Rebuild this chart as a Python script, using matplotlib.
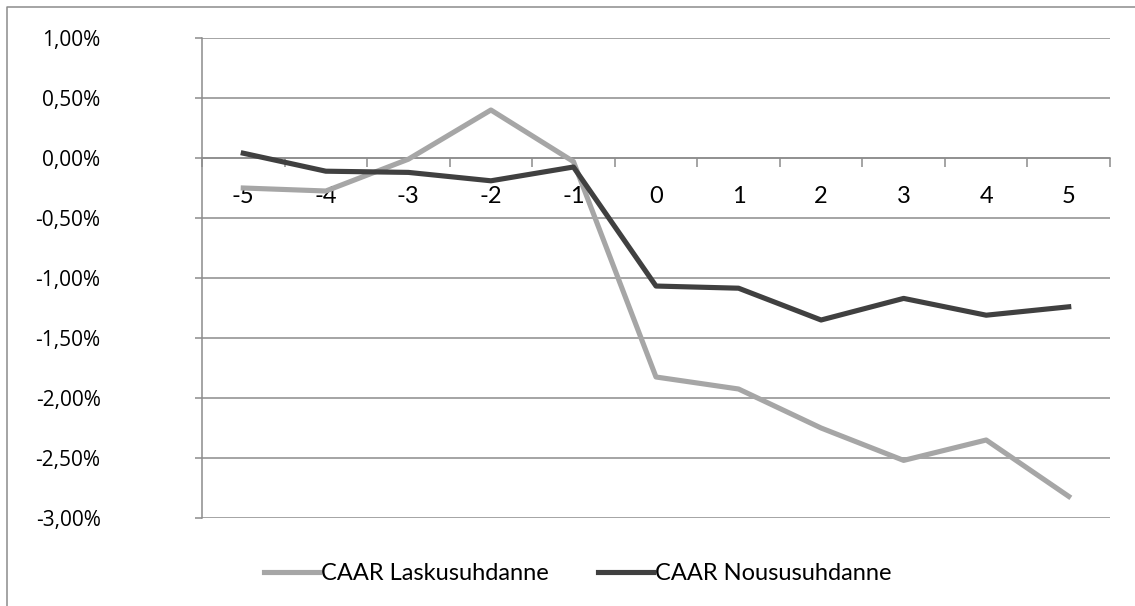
import numpy as np
import matplotlib
matplotlib.use('Agg')
import matplotlib.pyplot as plt
from matplotlib.lines import Line2D
from matplotlib.ticker import FuncFormatter

days = [-5, -4, -3, -2, -1, 0, 1, 2, 3, 4, 5]
# CAAR in percent
caar_lasku = [-0.25, -0.275, -0.01, 0.40, -0.03, -1.825, -1.925, -2.25, -2.52, -2.35, -2.82]
caar_nousu = [0.04, -0.11, -0.12, -0.19, -0.075, -1.067, -1.085, -1.35, -1.17, -1.31, -1.24]
yticks = [1.0, 0.5, 0.0, -0.5, -1.0, -1.5, -2.0, -2.5, -3.0]

plt.rcParams['font.family'] = ['Lato', 'DejaVu Sans']
grid_col = '#8c8c8c'

fig = plt.figure(figsize=(11.35, 6.06), dpi=100)
ax = fig.add_axes([202 / 1135, 1 - 518 / 606, 908 / 1135, 480 / 606])

x = np.arange(len(days))
ax.plot(x, caar_lasku, color='#a6a6a6', lw=3.7, solid_joinstyle='round', label='CAAR Laskusuhdanne', zorder=3)
ax.plot(x, caar_nousu, color='#404040', lw=3.7, solid_joinstyle='round', label='CAAR Noususuhdanne', zorder=4)

ax.set_xlim(-0.5, len(days) - 0.5)
ax.set_ylim(-3.0, 1.0)
ax.set_yticks(yticks)
ax.yaxis.set_major_formatter(FuncFormatter(lambda v, p: f'{v:.2f}%'.replace('.', ',')))
ax.grid(axis='y', color=grid_col, lw=1.1)
ax.set_axisbelow(True)

for s in ['top', 'right']:
    ax.spines[s].set_visible(False)
ax.spines['left'].set_color(grid_col)
ax.spines['left'].set_linewidth(1.1)
ax.spines['bottom'].set_position(('data', 0))
ax.spines['bottom'].set_color(grid_col)
ax.spines['bottom'].set_linewidth(1.1)

ax.tick_params(axis='y', length=5, width=1.1, color=grid_col, pad=68, labelsize=15)
ax.set_xticks(x)
ax.set_xticklabels([str(d) for d in days])
ax.tick_params(axis='x', which='major', length=0, pad=20, labelsize=17)
ax.set_xticks(np.arange(len(days) + 1) - 0.5, minor=True)
ax.tick_params(axis='x', which='minor', length=6.5, width=1.1, color=grid_col, direction='out')
for lbl in ax.get_yticklabels():
    lbl.set_fontfamily(['Open Sans', 'DejaVu Sans'])

fig.legend(loc='center', bbox_to_anchor=(578 / 1135, 1 - 574 / 606), ncol=2, frameon=False,
           fontsize=17, handlelength=2.3, handletextpad=0.1, columnspacing=2.1)

# outer chart border (left and top edges)
fig.add_artist(Line2D([7 / 1135, 7 / 1135, 1], [0, 1 - 7 / 606, 1 - 7 / 606],
                      transform=fig.transFigure, color=grid_col, lw=1.1))

fig.savefig('out.png', dpi=100)
